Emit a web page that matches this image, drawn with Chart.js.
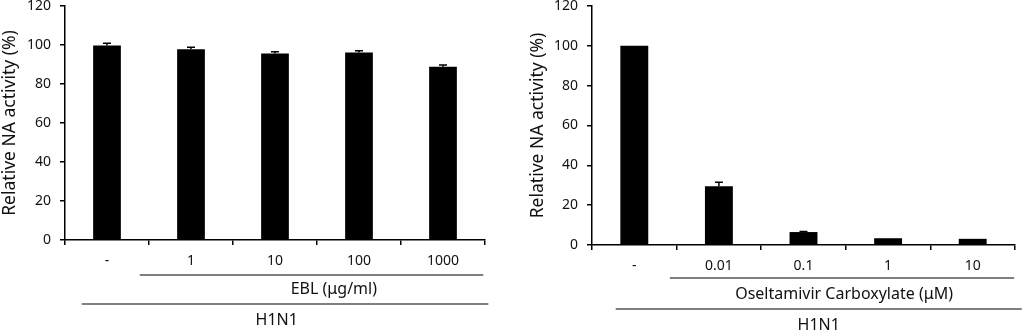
<!DOCTYPE html>
<html>
<head>
<meta charset="utf-8">
<script src="https://cdn.jsdelivr.net/npm/chart.js@4"></script>
<style>
  body { margin: 0; background: #fff; }
  .box { position: absolute; top: 0; width: 512px; height: 334px; }
</style>
</head>
<body>
<div class="box" style="left:0"><canvas id="chartEbl"></canvas></div>
<div class="box" style="left:512px"><canvas id="chartOc"></canvas></div>
<script>
// EBL panel
const eblLabels = ['-', '1', '10', '100', '1000'];
const eblValues = [99.8, 97.8, 95.6, 96.1, 88.8];
const eblErrors = [1.1, 1.0, 1.0, 1.0, 1.0];

// Oseltamivir carboxylate panel
const ocLabels = ['-', '0.01', '0.1', '1', '10'];
const ocValues = [100, 29.5, 6.5, 3.4, 3.1];
const ocErrors = [0, 2.0, 0.3, 0, 0];

const yTicks = [0, 20, 40, 60, 80, 100, 120];
const font = '"Noto Sans", "DejaVu Sans", sans-serif';

// draws the error bars on top of each bar
const errorBars = {
    id: 'errorBars',
    afterDatasetsDraw(chart, args, opts) {
        const ctx = chart.ctx;
        const y = chart.scales.y;
        const meta = chart.getDatasetMeta(0);
        const values = chart.data.datasets[0].data;
        ctx.save();
        ctx.strokeStyle = '#000';
        ctx.lineWidth = 1.5;
        opts.errors.forEach((e, i) => {
            if (!e) return;
            const bar = meta.data[i];
            const top = y.getPixelForValue(values[i] + e);
            ctx.beginPath();
            ctx.moveTo(bar.x, bar.y);
            ctx.lineTo(bar.x, top);
            ctx.moveTo(bar.x - 4, top);
            ctx.lineTo(bar.x + 4, top);
            ctx.stroke();
        });
        ctx.restore();
    }
};

// group lines with their labels under the category ticks
const groupLines = {
    id: 'groupLines',
    afterDraw(chart, args, opts) {
        const ctx = chart.ctx;
        const x = chart.scales.x;
        const base = chart.chartArea.bottom;
        ctx.save();
        ctx.strokeStyle = '#000';
        ctx.lineWidth = 1.2;
        ctx.fillStyle = '#111';
        ctx.font = '16px ' + font;
        ctx.textAlign = 'center';
        ctx.textBaseline = 'middle';
        opts.groups.forEach(g => {
            ctx.beginPath();
            ctx.moveTo(x.getPixelForValue(g.from), base + g.lineY);
            ctx.lineTo(x.getPixelForValue(g.to), base + g.lineY);
            ctx.stroke();
            ctx.fillText(g.label, x.getPixelForValue(g.at), base + g.textY);
        });
        ctx.restore();
    }
};

function makeChart(id, labels, values, errors, yWidth, padLeft, padRight, xHeight, groups) {
    const ctx = document.getElementById(id).getContext('2d');
    return new Chart(ctx, {
        type: 'bar',
        data: {
            labels: labels,
            datasets: [{
                data: values,
                backgroundColor: '#000',
                borderColor: '#000',
                borderWidth: 0,
                barPercentage: 0.33,
                categoryPercentage: 1
            }]
        },
        options: {
            responsive: true,
            maintainAspectRatio: false,
            animation: false,
            layout: { padding: { left: padLeft, top: 6, right: padRight, bottom: 0 } },
            plugins: {
                legend: { display: false },
                tooltip: { enabled: false },
                errorBars: { errors: errors },
                groupLines: { groups: groups }
            },
            scales: {
                x: {
                    offset: true,
                    grid: { offset: true, drawOnChartArea: false, tickLength: 5, color: '#000', lineWidth: 1.5 },
                    border: { color: '#000', width: 1.5 },
                    ticks: { color: '#111', font: { family: font, size: 14 }, padding: 8, maxRotation: 0 },
                    afterFit: s => { s.height = xHeight; s.paddingLeft = 0; s.paddingRight = 0; }
                },
                y: {
                    min: 0,
                    max: 120,
                    afterBuildTicks: s => { s.ticks = yTicks.map(v => ({ value: v })); },
                    grid: { drawOnChartArea: false, tickLength: 5, color: '#000', lineWidth: 1.5 },
                    border: { color: '#000', width: 1.5 },
                    ticks: { color: '#111', font: { family: font, size: 14 }, padding: 9 },
                    title: {
                        display: true,
                        text: 'Relative NA activity (%)',
                        color: '#111',
                        font: { family: font, size: 17.5 },
                        padding: { top: 0, bottom: 0 }
                    },
                    afterFit: s => { s.width = yWidth; s.paddingTop = 0; s.paddingBottom = 0; }
                }
            }
        },
        plugins: [errorBars, groupLines]
    });
}

makeChart('chartEbl', eblLabels, eblValues, eblErrors, 65, 0, 27, 94, [
    { label: 'EBL (\u03bcg/ml)', from: 0.39, to: 4.48, at: 2.7, lineY: 35, textY: 49 },
    { label: 'H1N1', from: -0.3, to: 4.54, at: 2.02, lineY: 64, textY: 80 }
]);

makeChart('chartOc', ocLabels, ocValues, ocErrors, 64, 16, 9, 89, [
    { label: 'Oseltamivir Carboxylate (\u03bcM)', from: 0.42, to: 4.49, at: 2.48, lineY: 33, textY: 49 },
    { label: 'H1N1', from: -0.22, to: 4.58, at: 2.18, lineY: 64, textY: 80 }
]);
</script>
</body>
</html>
